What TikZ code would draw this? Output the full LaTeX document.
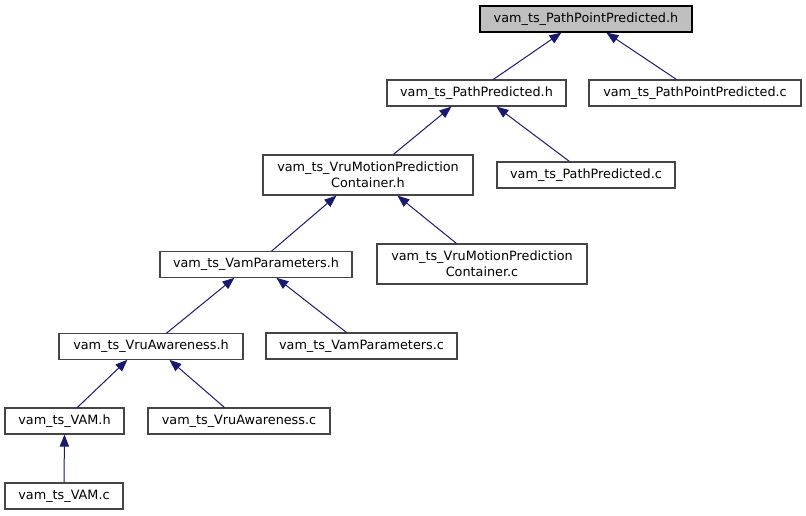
\documentclass[tikz,border=0pt]{standalone}
\usepackage{fontspec}
\setmainfont{DejaVu Sans}
\usetikzlibrary{arrows.meta,calc}
\definecolor{edgeblue}{HTML}{191970}
\definecolor{boxline}{HTML}{454545}
\definecolor{rootfill}{HTML}{BFBFBF}
\begin{document}
\begin{tikzpicture}[x=0.75pt,y=-0.75pt,
  file/.style={draw=boxline,line width=0.9pt,fill=white,inner sep=0pt,
    minimum height=19.5pt,align=center,font=\fontsize{9.6}{12}\selectfont},
  twoline/.style={minimum height=30pt},
  rootbox/.style={file,draw=black,fill=rootfill},
  edge/.style={draw=edgeblue,line width=0.75pt,
    {Triangle[length=9pt,width=7pt,fill=edgeblue]}-}]
\useasboundingbox (0,0) rectangle (806,515);
\node[rootbox,minimum width=159pt] (root) at (586,19) {vam\_ts\_PathPointPredicted.h};
\node[file,minimum width=134.25pt] (pph) at (476.5,93) {vam\_ts\_PathPredicted.h};
\node[file,minimum width=159pt] (ppc) at (695,93) {vam\_ts\_PathPointPredicted.c};
\node[file,twoline,minimum width=157.5pt] (vmh) at (368,175) {vam\_ts\_VruMotionPrediction\\Container.h};
\node[file,minimum width=133.5pt] (pc) at (586,175) {vam\_ts\_PathPredicted.c};
\node[file,minimum width=144pt,minimum height=19pt] (vph) at (256,264.5) {vam\_ts\_VamParameters.h};
\node[file,twoline,minimum width=157.5pt] (vmc) at (482,264) {vam\_ts\_VruMotionPrediction\\Container.c};
\node[file,minimum width=138pt,minimum height=19pt] (vah) at (151,346.5) {vam\_ts\_VruAwareness.h};
\node[file,minimum width=143.25pt] (vpc) at (361.5,346) {vam\_ts\_VamParameters.c};
\node[file,minimum width=89.25pt] (vamh) at (64.5,421) {vam\_ts\_VAM.h};
\node[file,minimum width=136.5pt] (vac) at (239,421) {vam\_ts\_VruAwareness.c};
\node[file,minimum width=88.5pt] (vamc) at (64,496) {vam\_ts\_VAM.c};
% edges: arrowhead at the included-by parent
\draw[edge] ($(root.south west)+(82,0)$) -- ($(pph.north west)+(107,0)$);
\draw[edge] ($(root.south west)+(127,0)$) -- ($(ppc.north west)+(88,0)$);
\draw[edge] ($(pph.south west)+(65,0)$) -- ($(vmh.north west)+(131,0)$);
\draw[edge] ($(pph.south west)+(110,0)$) -- ($(pc.north west)+(73,0)$);
\draw[edge] ($(vmh.south west)+(74,0)$) -- ($(vph.north west)+(112,0)$);
\draw[edge] ($(vmh.south west)+(135,0)$) -- ($(vmc.north west)+(80,0)$);
\draw[edge] ($(vph.south west)+(75,0)$) -- ($(vah.north west)+(108,0)$);
\draw[edge] ($(vph.south west)+(117,0)$) -- ($(vpc.north west)+(81,0)$);
\draw[edge] ($(vah.south west)+(69,0)$) -- ($(vamh.north west)+(73,0)$);
\draw[edge] ($(vah.south west)+(111,0)$) -- ($(vac.north west)+(77,0)$);
\draw[edge] (vamh.south) -- (vamc.north);
\end{tikzpicture}
\end{document}
